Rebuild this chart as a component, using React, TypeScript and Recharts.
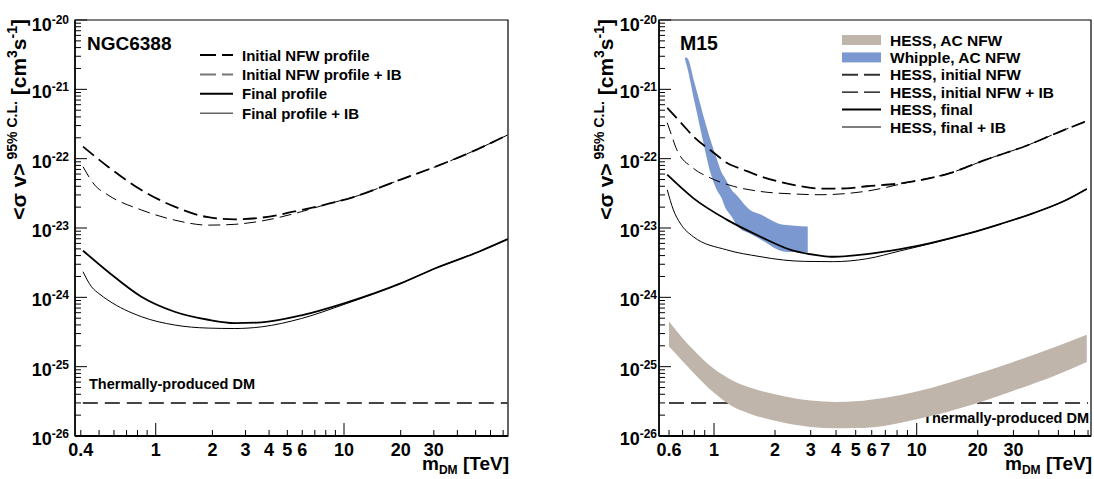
import React from 'react';
import { ComposedChart, Line, Area, XAxis, YAxis, ReferenceArea, Customized } from 'recharts';

const FONT = '"Liberation Sans", Arial, Helvetica, sans-serif';

// ---------- Left panel: NGC6388 ----------
const ngcInitX = [0.411, 0.558, 0.839, 1.26, 1.9, 2.63, 3.64, 5.94, 11.4, 20, 30, 50, 74];
const ngcInitY = [1.49e-22, 7.66e-23, 3.53e-23, 2.03e-23, 1.43e-23, 1.33e-23, 1.41e-23, 1.82e-23, 2.83e-23, 5.0e-23, 7.5e-23, 1.33e-22, 2.2e-22];
const ngcInitIBX = [0.411, 0.474, 0.558, 0.839, 1.26, 1.9, 2.63, 3.64, 5.94, 8, 11.4, 20, 30, 50, 74];
const ngcInitIBY = [7.66e-23, 4.17e-23, 2.99e-23, 1.82e-23, 1.3e-23, 1.1e-23, 1.13e-23, 1.26e-23, 1.72e-23, 2.18e-23, 2.83e-23, 5.0e-23, 7.5e-23, 1.33e-22, 2.2e-22];
const ngcFinalX = [0.411, 0.558, 0.839, 1.26, 1.9, 2.63, 3.64, 5.94, 10, 20, 30.6, 52, 74];
const ngcFinalY = [4.71e-24, 2.34e-24, 1.02e-24, 6.2e-25, 4.75e-25, 4.25e-25, 4.35e-25, 5.5e-25, 8.2e-25, 1.59e-24, 2.63e-24, 4.55e-24, 6.9e-24];
const ngcFinalIBX = [0.411, 0.456, 0.5, 0.558, 0.839, 1.26, 1.9, 2.63, 3.64, 5.94, 10, 20, 30.6, 52, 74];
const ngcFinalIBY = [2.34e-24, 1.42e-24, 1.13e-24, 9.1e-25, 5.26e-25, 3.99e-25, 3.6e-25, 3.55e-25, 3.75e-25, 4.95e-25, 7.9e-25, 1.59e-24, 2.63e-24, 4.55e-24, 6.9e-24];
const ngcThermalX = [0.41, 74.3];
const thermalValue = 3e-26;

// ---------- Right panel: M15 ----------
const m15InitX = [0.588, 0.7, 0.79, 1.0, 1.155, 1.4, 1.686, 2.46, 3.33, 4.5, 5.67, 8.3, 14.6, 22, 35, 50, 69];
const m15InitY = [5.4e-22, 3.1e-22, 2.1e-22, 1.21e-22, 8.7e-23, 6.9e-23, 5.6e-23, 4.2e-23, 3.7e-23, 3.72e-23, 4.0e-23, 4.4e-23, 6.2e-23, 9.7e-23, 1.55e-22, 2.4e-22, 3.5e-22];
const m15InitIBX = [0.588, 0.62, 0.655, 0.79, 0.956, 1.245, 1.686, 2.46, 3.33, 5.67, 9.2, 14.6, 22, 35, 50, 69];
const m15InitIBY = [3.3e-22, 2.1e-22, 1.35e-22, 7.3e-23, 5.3e-23, 4.0e-23, 3.37e-23, 3.1e-23, 3.02e-23, 3.4e-23, 4.6e-23, 6.2e-23, 9.7e-23, 1.55e-22, 2.4e-22, 3.5e-22];
const m15FinalX = [0.588, 0.79, 1.155, 1.686, 2.46, 3.33, 3.88, 5.67, 8.3, 12.1, 17.7, 25.8, 37.7, 55, 69];
const m15FinalY = [5.87e-23, 2.7e-23, 1.32e-23, 7.55e-24, 4.7e-24, 4.0e-24, 3.85e-24, 4.2e-24, 4.95e-24, 6.2e-24, 8.2e-24, 1.14e-23, 1.64e-23, 2.56e-23, 3.66e-23];
const m15FinalIBX = [0.588, 0.63, 0.68, 0.79, 1.155, 1.686, 2.2, 2.8, 3.88, 5.67, 8.3, 12.1, 17.7, 25.8, 37.7, 55, 69];
const m15FinalIBY = [3.56e-23, 1.83e-23, 1.18e-23, 7.5e-24, 4.84e-24, 3.87e-24, 3.45e-24, 3.3e-24, 3.27e-24, 3.6e-24, 4.68e-24, 6.1e-24, 8.2e-24, 1.14e-23, 1.64e-23, 2.56e-23, 3.66e-23];
const m15ThermalX = [0.6, 70];

const hessAcX = [0.6, 0.7, 0.8, 1, 1.2, 1.5, 2, 3, 4, 5, 7, 10, 20, 30, 50, 69];
const hessAcLo = [1.95e-25, 1.2e-25, 7.9e-26, 4.2e-26, 2.8e-26, 2.1e-26, 1.66e-26, 1.35e-26, 1.29e-26, 1.3e-26, 1.41e-26, 1.74e-26, 3.0e-26, 4.5e-26, 7.8e-26, 1.17e-25];
const hessAcHi = [4.47e-25, 2.57e-25, 1.7e-25, 9.3e-26, 6.6e-26, 5.0e-26, 4.0e-26, 3.24e-26, 3.1e-26, 3.16e-26, 3.55e-26, 4.37e-26, 7.9e-26, 1.17e-25, 2.0e-25, 2.88e-25];

const whippleX = [0.72, 0.74, 0.8, 0.88, 0.96, 1.03, 1.09, 1.13, 1.22, 1.31, 1.5, 1.7, 2.2, 2.5, 2.9];
const whippleHi = [2.9e-21, 2.8e-21, 1.26e-21, 4.5e-22, 1.88e-22, 1.01e-22, 6.3e-23, 5.3e-23, 3.56e-23, 2.85e-23, 1.83e-23, 1.56e-23, 1.11e-23, 1.08e-23, 1.05e-23];
const whippleLo = [2.7e-21, 2.0e-21, 6.8e-22, 1.88e-22, 6.3e-23, 3.56e-23, 2.7e-23, 2.05e-23, 1.47e-23, 1.05e-23, 8.3e-24, 6.8e-24, 4.6e-24, 4.5e-24, 4.4e-24];

// ---------- Axes ----------
const yExponents = [-26, -25, -24, -23, -22, -21];
const yTicks = [...yExponents.flatMap((e) => [1, 2, 3, 4, 5, 6, 7, 8, 9].map((m) => m * Math.pow(10, e))), 1e-20];
const leftXTicks = [0.4, 0.5, 0.6, 0.7, 0.8, 0.9, 1, 2, 3, 4, 5, 6, 7, 8, 9, 10, 20, 30, 40, 50, 60, 70];
const leftXLabels = [0.4, 1, 2, 3, 4, 5, 6, 10, 20, 30];
const rightXTicks = [0.6, 0.7, 0.8, 0.9, 1, 2, 3, 4, 5, 6, 7, 8, 9, 10, 20, 30, 40, 50, 60, 70];
const rightXLabels = [0.6, 1, 2, 3, 4, 5, 6, 7, 10, 20, 30];
const leftXDomain = [0.3726, 74.3];
const rightXDomain = [0.5354, 72.4];
const yDomain = [1e-26, 1e-20];

const pts = (xs: number[], ys: number[]) => xs.map((x, i) => ({ x, y: ys[i] }));
const band = (xs: number[], lo: number[], hi: number[]) => xs.map((x, i) => ({ x, range: [lo[i], hi[i]] }));
const flatBand = (xs: number[], v: number) => xs.map((x) => ({ x, range: [v, v] }));
const flat = (xs: number[], v: number) => xs.map((x) => ({ x, y: v }));

const makeYTick = (gap: number) => (props: any) => {
  const { x, y, payload } = props;
  const lg = Math.log10(payload.value);
  const e = Math.round(lg);
  const major = Math.abs(lg - e) < 1e-6;
  return (
    <g>
      <line x1={x} x2={x + (major ? 12 : 6)} y1={y} y2={y} stroke="#000" strokeWidth={1} />
      {major && (
        <text x={x - gap} y={y + (e === -20 ? 11 : 9)} textAnchor="end" fontFamily={FONT} fontWeight="bold" fontSize={18} fill="#000">
          <tspan>10</tspan>
          <tspan dy={-7} fontSize={12}>{String(e)}</tspan>
        </text>
      )}
    </g>
  );
};

const makeXTick = (labels: number[]) => (props: any) => {
  const { x, y, payload } = props;
  const v = payload.value;
  const major = v === 1 || v === 10;
  return (
    <g>
      <line x1={x} x2={x} y1={y} y2={y - (major ? 13 : 6)} stroke="#000" strokeWidth={1} />
      {labels.includes(v) && (
        <text x={x} y={y + 20} textAnchor="middle" fontFamily={FONT} fontWeight="bold" fontSize={18} fill="#000">
          {String(v)}
        </text>
      )}
    </g>
  );
};

const YTitle = ({ x, y }: { x: number; y: number }) => (
  <text transform={`translate(${x},${y}) rotate(-90)`} textAnchor="end" fontFamily={FONT} fontWeight="bold" fontSize={21} fill="#000">
    <tspan>{'<σ v>'}</tspan>
    <tspan dy={-9} fontSize={14}>{' 95% C.L.'}</tspan>
    <tspan dy={9}>{' [cm'}</tspan>
    <tspan dy={-9} fontSize={14}>3</tspan>
    <tspan dy={9}>s</tspan>
    <tspan dy={-9} fontSize={14}>-1</tspan>
    <tspan dy={9}>]</tspan>
  </text>
);

const XTitle = ({ x, y }: { x: number; y: number }) => (
  <text x={x} y={y} textAnchor="end" fontFamily={FONT} fontWeight="bold" fontSize={19} fill="#000">
    <tspan>m</tspan>
    <tspan dy={4} fontSize={12}>DM</tspan>
    <tspan dy={-4}>{' [TeV]'}</tspan>
  </text>
);

type LegendRow = { label: string; kind: 'line' | 'box'; color: string; width?: number; dash?: string };

const leftLegend: LegendRow[] = [
  { label: 'Initial NFW profile', kind: 'line', color: '#000', width: 2, dash: '16 6' },
  { label: 'Initial NFW profile + IB', kind: 'line', color: '#777', width: 2, dash: '16 6' },
  { label: 'Final profile', kind: 'line', color: '#000', width: 2 },
  { label: 'Final profile + IB', kind: 'line', color: '#666', width: 1.5 },
];
const rightLegend: LegendRow[] = [
  { label: 'HESS, AC NFW', kind: 'box', color: '#bfb5ab' },
  { label: 'Whipple, AC NFW', kind: 'box', color: '#7b98d0' },
  { label: 'HESS, initial NFW', kind: 'line', color: '#333', width: 2, dash: '16 6' },
  { label: 'HESS, initial NFW + IB', kind: 'line', color: '#000', width: 1.2, dash: '16 6' },
  { label: 'HESS, final', kind: 'line', color: '#000', width: 2 },
  { label: 'HESS, final + IB', kind: 'line', color: '#000', width: 1.2 },
];

const LegendBlock = ({ rows, x0, x1, tx, y0, dy, fs }: { rows: LegendRow[]; x0: number; x1: number; tx: number; y0: number; dy: number; fs: number }) => (
  <g>
    {rows.map((r, i) => {
      const y = y0 + i * dy;
      return (
        <g key={i}>
          {r.kind === 'box' ? (
            <rect x={x0} y={y - 5} width={x1 - x0} height={10} fill={r.color} />
          ) : (
            <line x1={x0} x2={x1} y1={y} y2={y} stroke={r.color} strokeWidth={r.width} strokeDasharray={r.dash} />
          )}
          <text x={tx} y={y + 5.5} fontFamily={FONT} fontWeight="bold" fontSize={fs} fill="#000">{r.label}</text>
        </g>
      );
    })}
  </g>
);

const LeftOverlay = () => (
  <g>
    <text x={87} y={50} fontFamily={FONT} fontWeight="bold" fontSize={19} fill="#000">NGC6388</text>
    <LegendBlock rows={leftLegend} x0={200} x1={233} tx={242} y0={55} dy={19.4} fs={15} />
    <text x={89} y={389} fontFamily={FONT} fontWeight="bold" fontSize={14.5} fill="#000">Thermally-produced DM</text>
    <YTitle x={26} y={19} />
    <XTitle x={509} y={470} />
  </g>
);

const RightOverlay = () => (
  <g>
    <text x={133} y={50} fontFamily={FONT} fontWeight="bold" fontSize={19.5} fill="#000">M15</text>
    <LegendBlock rows={rightLegend} x0={295} x1={334} tx={343} y0={40} dy={17.4} fs={15.5} />
    <text x={542} y={423} textAnchor="end" fontFamily={FONT} fontWeight="bold" fontSize={14.5} fill="#000">Thermally-produced DM</text>
    <YTitle x={66} y={19} />
    <XTitle x={545} y={470} />
  </g>
);

export default function App() {
  return (
    <div style={{ position: 'absolute', left: 0, top: 0, width: 1094, height: 479, background: '#fff' }}>
      <div style={{ position: 'absolute', left: 0, top: 0 }}>
        <ComposedChart width={547} height={479} margin={{ top: 20, right: 39, bottom: 13, left: 15 }}>
          <XAxis type="number" dataKey="x" scale="log" domain={leftXDomain} allowDataOverflow ticks={leftXTicks} interval={0}
            tickSize={0} tickMargin={0} tickLine={false} tick={makeXTick(leftXLabels)} height={30}
            axisLine={{ stroke: '#000', strokeWidth: 2 }} />
          <YAxis type="number" scale="log" domain={yDomain} allowDataOverflow ticks={yTicks} interval={0}
            tickSize={0} tickMargin={0} tickLine={false} tick={makeYTick(6)} width={60}
            axisLine={{ stroke: '#000', strokeWidth: 1.5 }} />
          <Line data={flat(ngcThermalX, thermalValue)} dataKey="y" stroke="#444" strokeWidth={2} strokeDasharray="15 7" dot={false} activeDot={false} isAnimationActive={false} />
          <Line data={pts(ngcInitX, ngcInitY)} dataKey="y" type="monotone" stroke="#000" strokeWidth={1.8} strokeDasharray="14 6" dot={false} activeDot={false} isAnimationActive={false} />
          <Line data={pts(ngcInitIBX, ngcInitIBY)} dataKey="y" type="monotone" stroke="#000" strokeWidth={1} strokeDasharray="12 6" dot={false} activeDot={false} isAnimationActive={false} />
          <Line data={pts(ngcFinalX, ngcFinalY)} dataKey="y" type="monotone" stroke="#000" strokeWidth={1.8} dot={false} activeDot={false} isAnimationActive={false} />
          <Line data={pts(ngcFinalIBX, ngcFinalIBY)} dataKey="y" type="monotone" stroke="#000" strokeWidth={1} dot={false} activeDot={false} isAnimationActive={false} />
          <ReferenceArea x1={leftXDomain[0]} x2={leftXDomain[1]} y1={yDomain[0]} y2={yDomain[1]} fill="none" stroke="#000" strokeWidth={1.2} ifOverflow="visible" />
          <Customized component={LeftOverlay} />
        </ComposedChart>
      </div>
      <div style={{ position: 'absolute', left: 547, top: 0 }}>
        <ComposedChart width={547} height={479} margin={{ top: 20, right: 3, bottom: 13, left: 52 }}>
          <XAxis type="number" dataKey="x" scale="log" domain={rightXDomain} allowDataOverflow ticks={rightXTicks} interval={0}
            tickSize={0} tickMargin={0} tickLine={false} tick={makeXTick(rightXLabels)} height={30}
            axisLine={{ stroke: '#000', strokeWidth: 2 }} />
          <YAxis type="number" scale="log" domain={yDomain} allowDataOverflow ticks={yTicks} interval={0}
            tickSize={0} tickMargin={0} tickLine={false} tick={makeYTick(2)} width={60}
            axisLine={{ stroke: '#000', strokeWidth: 1.5 }} />
          <Area data={flatBand(m15ThermalX, thermalValue)} dataKey="range" stroke="#444" strokeWidth={2} strokeDasharray="15 7" fill="none" dot={false} activeDot={false} isAnimationActive={false} />
          <Area data={band(hessAcX, hessAcLo, hessAcHi)} dataKey="range" type="monotone" stroke="none" fill="#bfb5ab" fillOpacity={1} dot={false} activeDot={false} isAnimationActive={false} />
          <Area data={band(whippleX, whippleLo, whippleHi)} dataKey="range" type="monotone" stroke="none" fill="#7b98d0" fillOpacity={1} dot={false} activeDot={false} isAnimationActive={false} />
          <Line data={pts(m15InitX, m15InitY)} dataKey="y" type="monotone" stroke="#000" strokeWidth={1.8} strokeDasharray="14 6" dot={false} activeDot={false} isAnimationActive={false} />
          <Line data={pts(m15InitIBX, m15InitIBY)} dataKey="y" type="monotone" stroke="#000" strokeWidth={1} strokeDasharray="12 6" dot={false} activeDot={false} isAnimationActive={false} />
          <Line data={pts(m15FinalX, m15FinalY)} dataKey="y" type="monotone" stroke="#000" strokeWidth={1.8} dot={false} activeDot={false} isAnimationActive={false} />
          <Line data={pts(m15FinalIBX, m15FinalIBY)} dataKey="y" type="monotone" stroke="#000" strokeWidth={1} dot={false} activeDot={false} isAnimationActive={false} />
          <ReferenceArea x1={rightXDomain[0]} x2={rightXDomain[1]} y1={yDomain[0]} y2={yDomain[1]} fill="none" stroke="#000" strokeWidth={1.2} ifOverflow="visible" />
          <Customized component={RightOverlay} />
        </ComposedChart>
      </div>
    </div>
  );
}
